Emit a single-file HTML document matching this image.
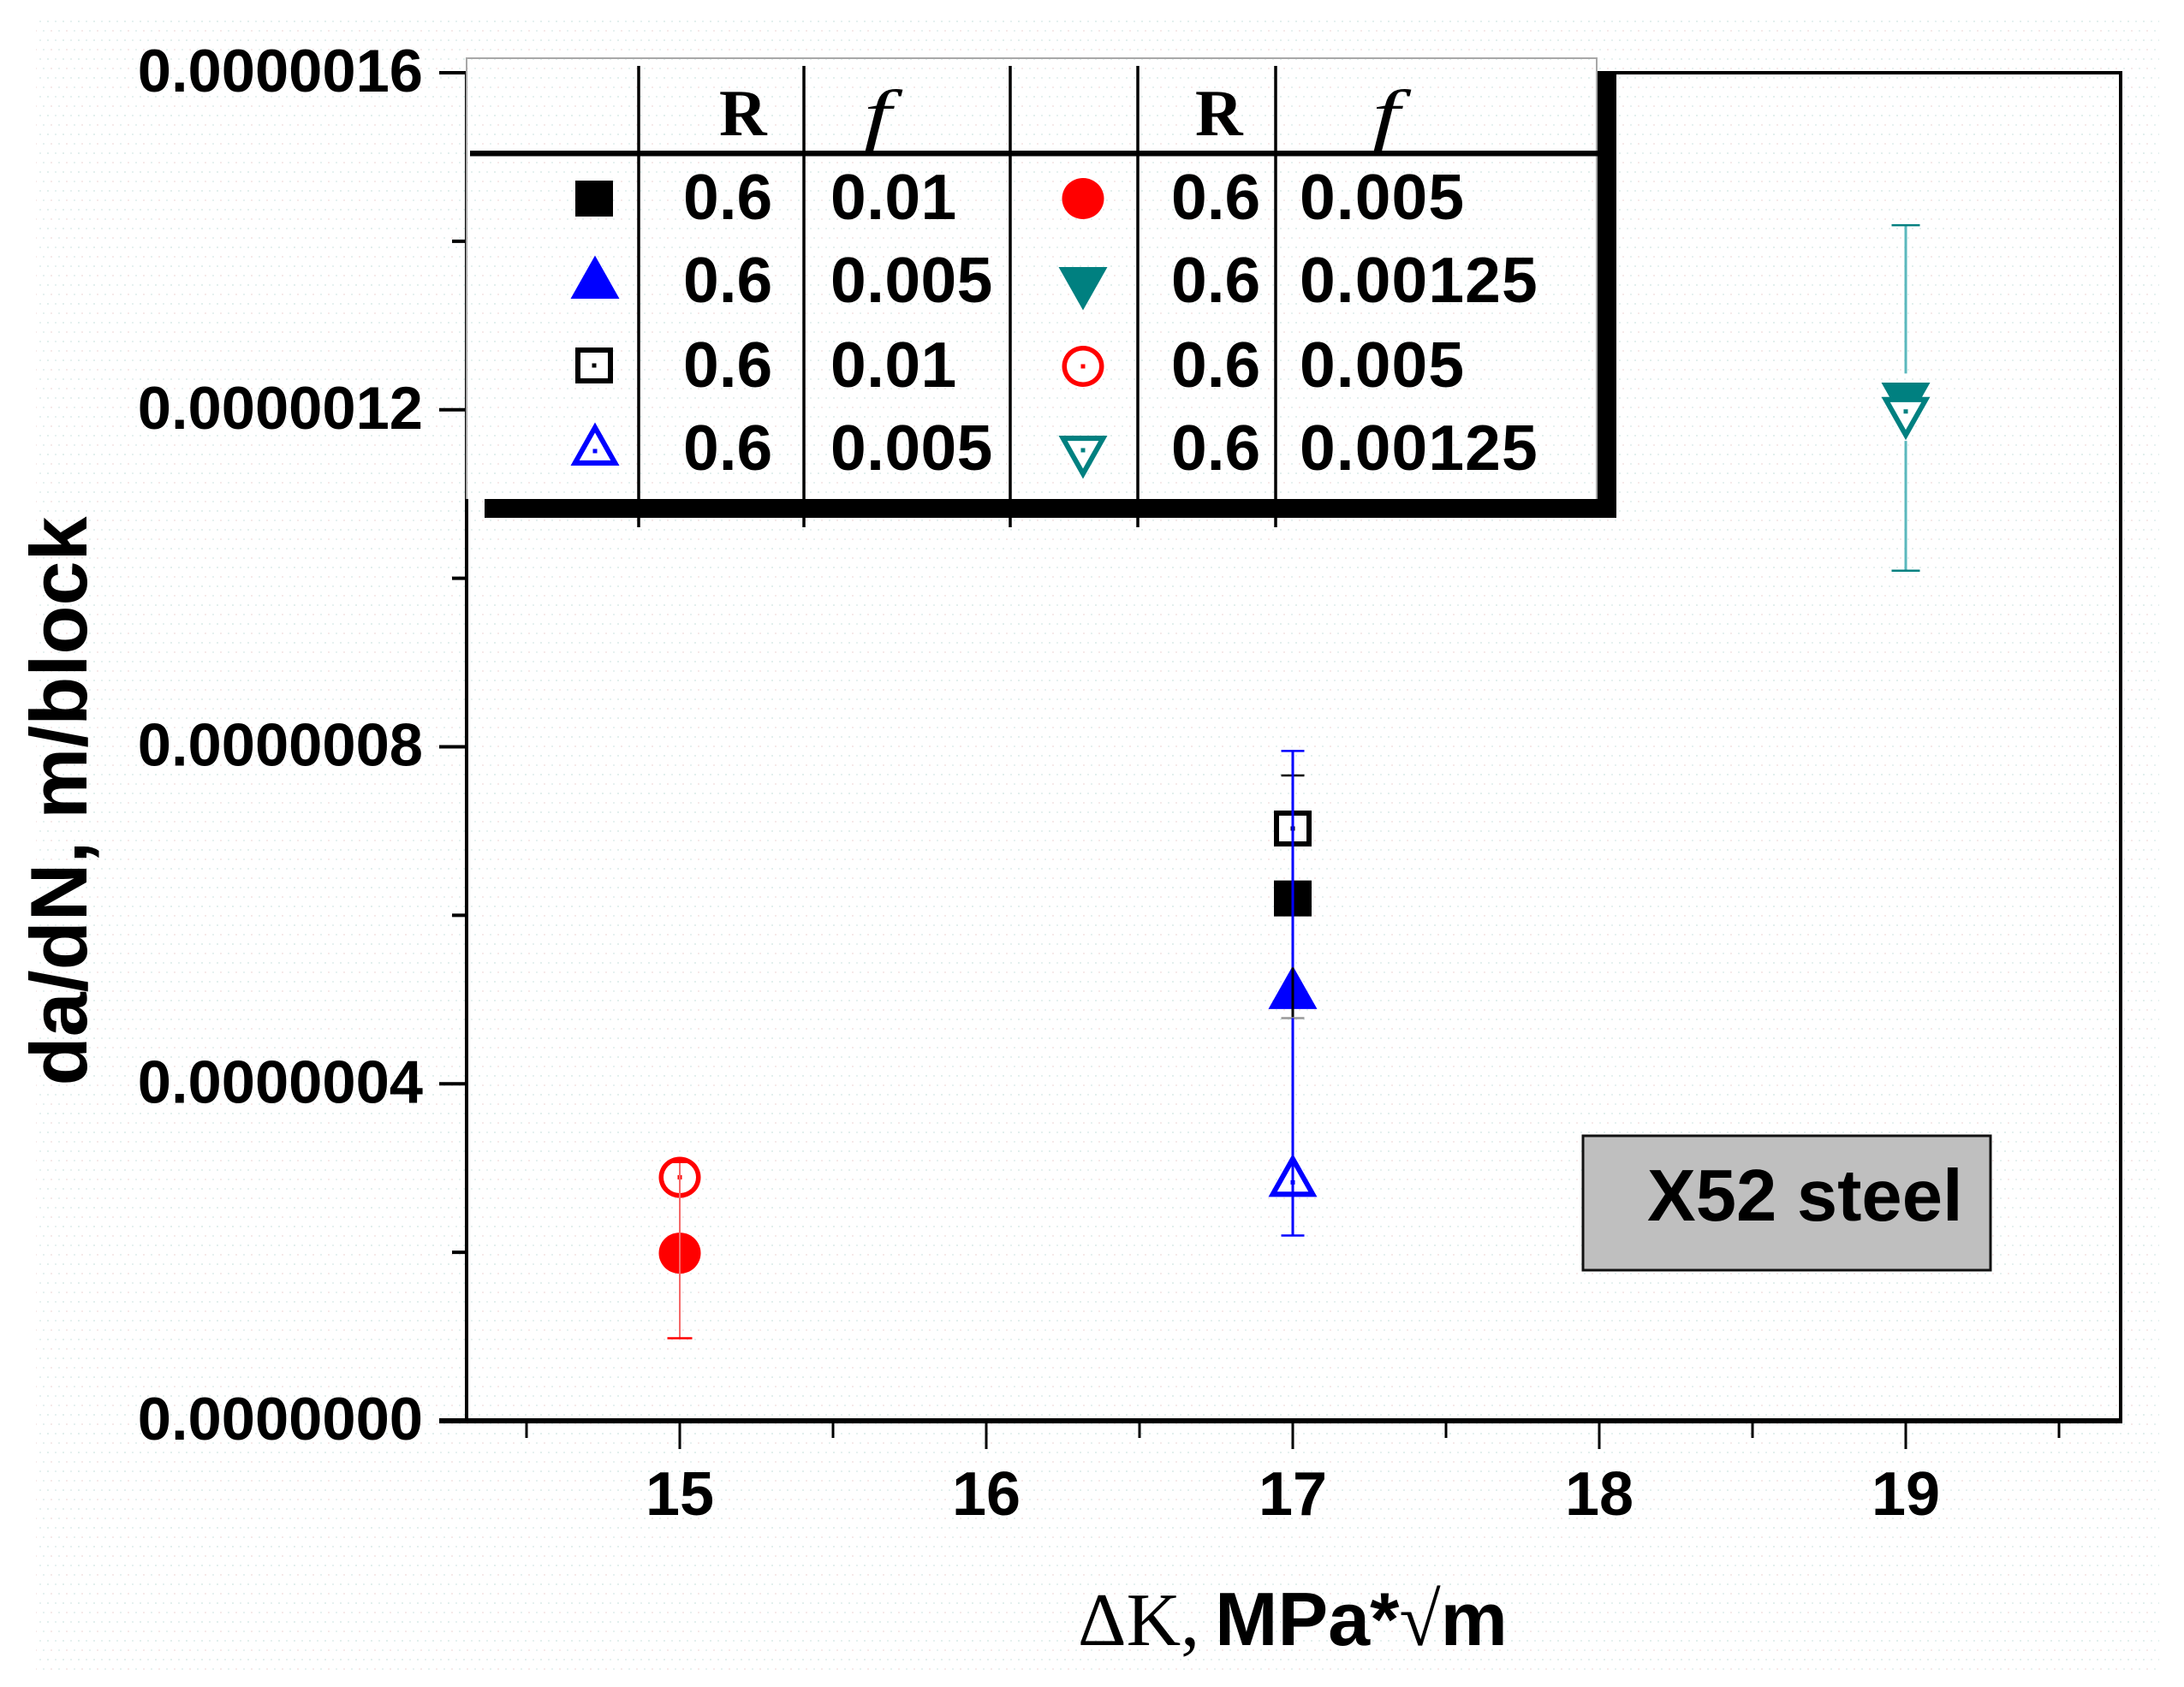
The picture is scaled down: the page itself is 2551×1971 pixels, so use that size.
<!DOCTYPE html>
<html lang="en">
<head>
<meta charset="utf-8">
<title>X52 steel crack growth rate chart</title>
<style>
html,body{margin:0;padding:0;background:#fff;}
svg{display:block;}
.sans{font-family:"Liberation Sans",Arial,sans-serif;font-weight:bold;}
.serif{font-family:"Liberation Serif","Times New Roman",serif;}
</style>
</head>
<body>
<svg id="chart" xmlns="http://www.w3.org/2000/svg" width="2551" height="1971" viewBox="0 0 2551 1971">
  <defs>
    <pattern id="dots" width="18" height="22" patternUnits="userSpaceOnUse">
      <rect x="1" y="2" width="2" height="2" fill="#e2efed"/>
      <rect x="10" y="2" width="2" height="2" fill="#e6f1f0"/>
      <rect x="5" y="13" width="2" height="2" fill="#f6e9e9"/>
      <rect x="14" y="13" width="2" height="2" fill="#e6f1f0"/>
    </pattern>
  </defs>
  <rect x="0" y="0" width="2551" height="1971" fill="#ffffff"/>
  <rect x="42" y="16" width="2480" height="1935" fill="url(#dots)"/>
  <g id="axes"></g>
  <g id="marks"></g>

  <g>
    <rect x="1849" y="1327" width="476" height="157" fill="#bfbfbf" stroke="#111" stroke-width="3"/>
    <text class="sans" x="1924" y="1426" font-size="85" fill="#000">X52 steel</text>
  </g>

  <g id="legend">
    <rect x="1865" y="85" width="23" height="520" fill="#000"/>
    <rect x="566" y="583" width="1322" height="22" fill="#000"/>
    <rect x="545" y="67" width="1320" height="516" fill="#fff"/>
    <rect x="545" y="67" width="1320" height="516" fill="url(#dots)"/>
    <path d="M545 583V68H1865V583" fill="none" stroke="#a8a8a8" stroke-width="2"/>
    <rect x="549" y="176" width="1320" height="6.5" fill="#000"/>
    <g stroke="#000" stroke-width="3.5">
      <line x1="746" y1="77" x2="746" y2="616"/>
      <line x1="939" y1="77" x2="939" y2="616"/>
      <line x1="1180" y1="77" x2="1180" y2="616"/>
      <line x1="1329" y1="77" x2="1329" y2="616"/>
      <line x1="1490" y1="77" x2="1490" y2="616"/>
    </g>
    <g class="serif" font-size="77" font-weight="bold" fill="#000">
      <text x="840" y="158">R</text>
      <text transform="translate(1025,161) scale(1.5,1.05)" text-anchor="middle" font-style="italic" font-weight="normal">f</text>
      <text x="1396" y="158">R</text>
      <text transform="translate(1619,161) scale(1.5,1.05)" text-anchor="middle" font-style="italic" font-weight="normal">f</text>
    </g>
    <g class="sans" font-size="75" fill="#000">
      <text x="798" y="256">0.6</text>
      <text x="970" y="256" letter-spacing="0.4">0.01</text>
      <text x="1368" y="256">0.6</text>
      <text x="1518" y="256" letter-spacing="1.1">0.005</text>
      <text x="798" y="353">0.6</text>
      <text x="970" y="353" letter-spacing="0.4">0.005</text>
      <text x="1368" y="353">0.6</text>
      <text x="1518" y="353" letter-spacing="1.1">0.00125</text>
      <text x="798" y="452">0.6</text>
      <text x="970" y="452" letter-spacing="0.4">0.01</text>
      <text x="1368" y="452">0.6</text>
      <text x="1518" y="452" letter-spacing="1.1">0.005</text>
      <text x="798" y="549">0.6</text>
      <text x="970" y="549" letter-spacing="0.4">0.005</text>
      <text x="1368" y="549">0.6</text>
      <text x="1518" y="549" letter-spacing="1.1">0.00125</text>
    </g>
    <g id="legend-markers"></g>
  </g>
</svg>
<script>
// Chart data
const xTickValues = [15, 16, 17, 18, 19];
const xTickLabels = ['15', '16', '17', '18', '19'];
const xMinorValues = [14.5, 15.5, 16.5, 17.5, 18.5, 19.5];
const yTickValues = [0, 4e-7, 8e-7, 12e-7, 16e-7];
const yTickLabels = ['0.0000000', '0.0000004', '0.0000008', '0.0000012', '0.0000016'];
const yMinorValues = [2e-7, 6e-7, 10e-7, 14e-7];

const seriesKeys = ['solid-square', 'solid-circle', 'solid-up', 'solid-down', 'open-square', 'open-circle', 'open-up', 'open-down'];
const seriesDeltaK = [17, 15, 17, 19, 17, 15, 17, 19];
const seriesRates = [6.2e-7, 1.99e-7, 5.06e-7, 12.15e-7, 7.03e-7, 2.89e-7, 2.83e-7, 11.98e-7];

const errorKeys = ['black', 'blue-upper', 'blue-lower', 'red', 'teal-upper', 'teal-lower'];
const errorDeltaK = [17, 17, 17, 15, 19, 19];
const errorLow = [4.78e-7, 5.38e-7, 2.2e-7, 0.98e-7, 12.43e-7, 10.09e-7];
const errorHigh = [7.66e-7, 7.95e-7, 4.78e-7, 3.07e-7, 14.19e-7, 11.63e-7];

// Axis functions
const PLOT = {left: 545, right: 2477, top: 85, bottom: 1660};
function xScale(v) { return 794 + (v - 15) * 358; }
function yScale(v) { return PLOT.bottom - (v / 16e-7) * (PLOT.bottom - PLOT.top); }

const SVG_NS = 'http://www.w3.org/2000/svg';
function make(parent, tag, name, attrs, text) {
  const el = document.createElementNS(SVG_NS, tag);
  
  
  for (const k in attrs) el.setAttribute(k, attrs[k]);
  if (text !== undefined) el.textContent = text;
  parent.appendChild(el);
  return el;
}
function line(parent, name, x1, y1, x2, y2, color, w) {
  return make(parent, 'line', name, {x1: x1, y1: y1, x2: x2, y2: y2, stroke: color, 'stroke-width': w});
}
function triPoints(cx, cy, up, k) {
  const hw = 28.5 * k, above = 33.5 * k, below = 17 * k;
  return up
    ? `${cx},${cy - above} ${cx - hw},${cy + below} ${cx + hw},${cy + below}`
    : `${cx},${cy + above} ${cx - hw},${cy - below} ${cx + hw},${cy - below}`;
}
function marker(parent, name, shape, open, cx, cy, color) {
  const g = make(parent, 'g', name, {});
  if (shape === 'square') {
    make(g, 'rect', name + '-shape', {x: cx - 22, y: cy - 21, width: 44, height: 42, fill: color});
    if (open) make(g, 'rect', name + '-hole', {x: cx - 16, y: cy - 15, width: 32, height: 30, fill: '#fff'});
  } else if (shape === 'circle') {
    make(g, 'ellipse', name + '-shape', {cx: cx, cy: cy, rx: 24.5, ry: 24, fill: color});
    if (open) make(g, 'ellipse', name + '-hole', {cx: cx, cy: cy, rx: 19, ry: 18.5, fill: '#fff'});
  } else {
    const up = shape === 'up';
    make(g, 'polygon', name + '-shape', {points: triPoints(cx, cy, up, 1), fill: color});
    if (open) make(g, 'polygon', name + '-hole', {points: triPoints(cx, cy, up, 0.64), fill: '#fff'});
  }
  if (open) make(g, 'rect', name + '-dot', {x: cx - 2.5, y: cy - 2.5, width: 5, height: 5, fill: color});
}

// Axes
const axes = document.getElementById('axes');
line(axes, 'y-axis-line', PLOT.left, PLOT.top - 2, PLOT.left, PLOT.bottom, '#000', 4);
line(axes, 'x-axis-line', PLOT.left - 32, PLOT.bottom, PLOT.right + 2, PLOT.bottom, '#000', 6);
line(axes, 'top-border', PLOT.left, PLOT.top, PLOT.right + 2, PLOT.top, '#000', 4);
line(axes, 'right-border', PLOT.right, PLOT.top - 2, PLOT.right, PLOT.bottom, '#000', 4);

yTickValues.forEach(function (v, i) {
  const y = yScale(v);
  line(axes, 'y-major-tick', PLOT.left - 32, y, PLOT.left, y, '#000', 4);
  make(axes, 'text', 'y-tick-label', {class: 'sans', x: 494, y: y + 22, 'font-size': 70.5, 'text-anchor': 'end', fill: '#000'}, yTickLabels[i]);
});
yMinorValues.forEach(function (v) {
  const y = yScale(v);
  line(axes, 'y-minor-tick', PLOT.left - 17, y, PLOT.left, y, '#000', 4);
});
xTickValues.forEach(function (v, i) {
  const x = xScale(v);
  line(axes, 'x-major-tick', x, PLOT.bottom, x, PLOT.bottom + 33, '#000', 3);
  make(axes, 'text', 'x-tick-label', {class: 'sans', x: x, y: 1770, 'font-size': 72, 'text-anchor': 'middle', fill: '#000'}, xTickLabels[i]);
});
xMinorValues.forEach(function (v) {
  const x = xScale(v);
  line(axes, 'x-minor-tick', x, PLOT.bottom, x, PLOT.bottom + 20, '#000', 3);
});

// Axis titles
const xt = make(axes, 'text', 'x-axis-title', {x: 1259, y: 1922, 'font-size': 88, fill: '#000'});
const xt1 = make(xt, 'tspan', 'x-axis-title-symbol', {class: 'serif'}, '\u0394K,');
const xt2 = make(xt, 'tspan', 'x-axis-title-unit', {class: 'sans', dx: 18}, 'MPa*');
const xt3 = make(xt, 'tspan', 'x-axis-title-root', {class: 'serif'}, '\u221A');
const xt4 = make(xt, 'tspan', 'x-axis-title-m', {class: 'sans'}, 'm');
make(axes, 'text', 'y-axis-title', {class: 'sans', transform: 'translate(101,936) rotate(-90)', 'font-size': 93.5, 'text-anchor': 'middle', fill: '#000'}, 'da/dN, m/block');

// Series styling (by key)
const seriesStyle = {
  'solid-square': ['square', false, '#000000'],
  'solid-circle': ['circle', false, '#ff0000'],
  'solid-up': ['up', false, '#0000ff'],
  'solid-down': ['down', false, '#008080'],
  'open-square': ['square', true, '#000000'],
  'open-circle': ['circle', true, '#ff0000'],
  'open-up': ['up', true, '#0000ff'],
  'open-down': ['down', true, '#008080']
};
const errorStyle = {
  'black': {color: '#000', w: 3, cap: 27, high: true, low: true, lowColor: '#999'},
  'blue-upper': {color: '#0000ff', w: 3, cap: 27, high: true, low: false},
  'blue-lower': {color: '#0000ff', w: 3, cap: 27, high: false, low: true},
  'red': {color: '#f46a6a', w: 2, cap: 29, capHigh: 21, high: true, low: true, capColor: '#ff0000'},
  'teal-upper': {color: '#5bb8bd', w: 3, cap: 33, high: true, low: false, capColor: '#008080'},
  'teal-lower': {color: '#5bb8bd', w: 3, cap: 33, high: false, low: true, capColor: '#008080'}
};

// Data marks: solid first so the open marker sits on top
const marks = document.getElementById('marks');
seriesKeys.forEach(function (key, i) {
  const s = seriesStyle[key];
  marker(marks, 'point-' + key, s[0], s[1], xScale(seriesDeltaK[i]), yScale(seriesRates[i]), s[2]);
});
errorKeys.forEach(function (key, i) {
  const s = errorStyle[key];
  const x = xScale(errorDeltaK[i]), yLow = yScale(errorLow[i]), yHigh = yScale(errorHigh[i]);
  const capColor = s.capColor || s.color;
  const capHigh = s.capHigh || s.cap;
  line(marks, 'error-bar-' + key, x, yLow, x, yHigh, s.color, s.w);
  if (s.high) line(marks, 'error-cap-high-' + key, x - capHigh / 2, yHigh, x + capHigh / 2, yHigh, capColor, 2.5);
  if (s.low) line(marks, 'error-cap-low-' + key, x - s.cap / 2, yLow, x + s.cap / 2, yLow, s.lowColor || capColor, 2.5);
});

// Legend markers
const lm = document.getElementById('legend-markers');
marker(lm, 'legend-solid-square', 'square', false, 694, 232, '#000000');
marker(lm, 'legend-solid-up', 'up', false, 695, 332, '#0000ff');
marker(lm, 'legend-open-square', 'square', true, 694, 427, '#000000');
marker(lm, 'legend-open-up', 'up', true, 695, 527, '#0000ff');
marker(lm, 'legend-solid-circle', 'circle', false, 1265, 232, '#ff0000');
marker(lm, 'legend-solid-down', 'down', false, 1265, 329, '#008080');
marker(lm, 'legend-open-circle', 'circle', true, 1265, 428, '#ff0000');
marker(lm, 'legend-open-down', 'down', true, 1265, 526, '#008080');
</script>
</body>
</html>
